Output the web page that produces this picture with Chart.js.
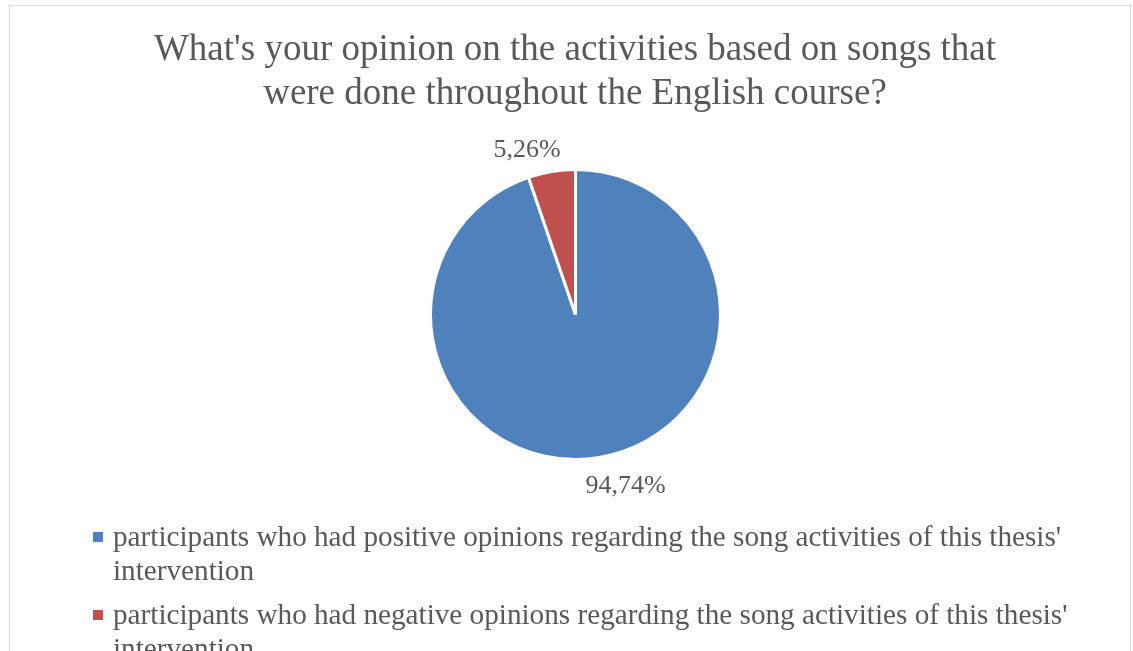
<!DOCTYPE html>
<html>
<head>
<meta charset="utf-8">
<script src="https://cdn.jsdelivr.net/npm/chart.js@4"></script>
<style>
    html, body { margin: 0; padding: 0; background: #fff; }
    .frame {
        position: absolute;
        left: 9px;
        top: 5px;
        width: 1120px;
        height: 700px;
        border: 1px solid #d9d9d9;
    }
    .wrap { position: absolute; left: 0; top: 0; width: 1133px; height: 651px; }
</style>
</head>
<body>
<div class="frame"></div>
<div class="wrap"><canvas id="pie-chart" width="1133" height="651"></canvas></div>
<script>
const titlelines = ["What's your opinion on the activities based on songs that", "were done throughout the English course?"];
const labels = [
    "participants who had positive opinions regarding the song activities of this thesis' intervention",
    "participants who had negative opinions regarding the song activities of this thesis' intervention",
];
const values = [94.74, 5.26];
const colors = ["#4f81bd", "#c0504d"];

const textcolor = "#595959";
const fontfamily = "'Liberation Serif', 'Times New Roman', serif";

const fmt = (v) => v.toFixed(2).replace(".", ",") + "%";

// title, slice labels and wrapped legend are drawn straight onto the canvas
const decorations = {
    id: "decorations",
    afterDraw(chart) {
        const c = chart.ctx;
        c.save();
        c.fillStyle = textcolor;

        c.font = `37px ${fontfamily}`;
        c.textAlign = "center";
        c.textBaseline = "alphabetic";
        titlelines.forEach((line, i) => c.fillText(line, 575, 60 + i * 44));

        const meta = chart.getDatasetMeta(0);
        c.font = `26px ${fontfamily}`;
        c.textBaseline = "middle";
        meta.data.forEach((arc, i) => {
            const p = arc.getProps(["x", "y", "startAngle", "endAngle", "outerRadius"], true);
            const mid = (p.startAngle + p.endAngle) / 2;
            const dx = Math.cos(mid);
            const dy = Math.sin(mid);
            const r = p.outerRadius + 25;
            const ax = p.x + dx * r;
            const ay = p.y + dy * r;
            if (dx < 0) {
                c.textAlign = "right";
                c.fillText(fmt(values[i]), ax + 13, ay + 3);
            } else {
                c.textAlign = "left";
                c.fillText(fmt(values[i]), ax - 18, ay + 4);
            }
        });

        c.font = `29.2px ${fontfamily}`;
        c.textAlign = "left";
        c.textBaseline = "alphabetic";
        const maxwidth = 990;
        let y = 546;
        labels.forEach((text, i) => {
            c.fillStyle = colors[i];
            c.fillRect(93, y - 14, 10, 10);
            c.fillStyle = textcolor;

            const words = text.split(" ");
            let line = "";
            const lines = [];
            words.forEach((w) => {
                const test = line ? line + " " + w : w;
                if (c.measureText(test).width > maxwidth && line) {
                    lines.push(line);
                    line = w;
                } else {
                    line = test;
                }
            });
            lines.push(line);
            lines.forEach((l, j) => c.fillText(l, 113, y + j * 34));
            y += lines.length * 34 + 10;
        });
        c.restore();
    },
};

const ctx = document.getElementById("pie-chart").getContext("2d");

new Chart(ctx, {
    type: "pie",
    data: {
        labels: labels,
        datasets: [
            {
                data: values,
                backgroundColor: colors,
                borderColor: "#ffffff",
                borderWidth: 3,
            },
        ],
    },
    options: {
        responsive: false,
        animation: false,
        layout: {
            padding: { left: 429, right: 411, top: 168, bottom: 190 },
        },
        plugins: {
            legend: { display: false },
            title: { display: false },
            tooltip: { enabled: false },
        },
    },
    plugins: [decorations],
});
</script>
</body>
</html>
